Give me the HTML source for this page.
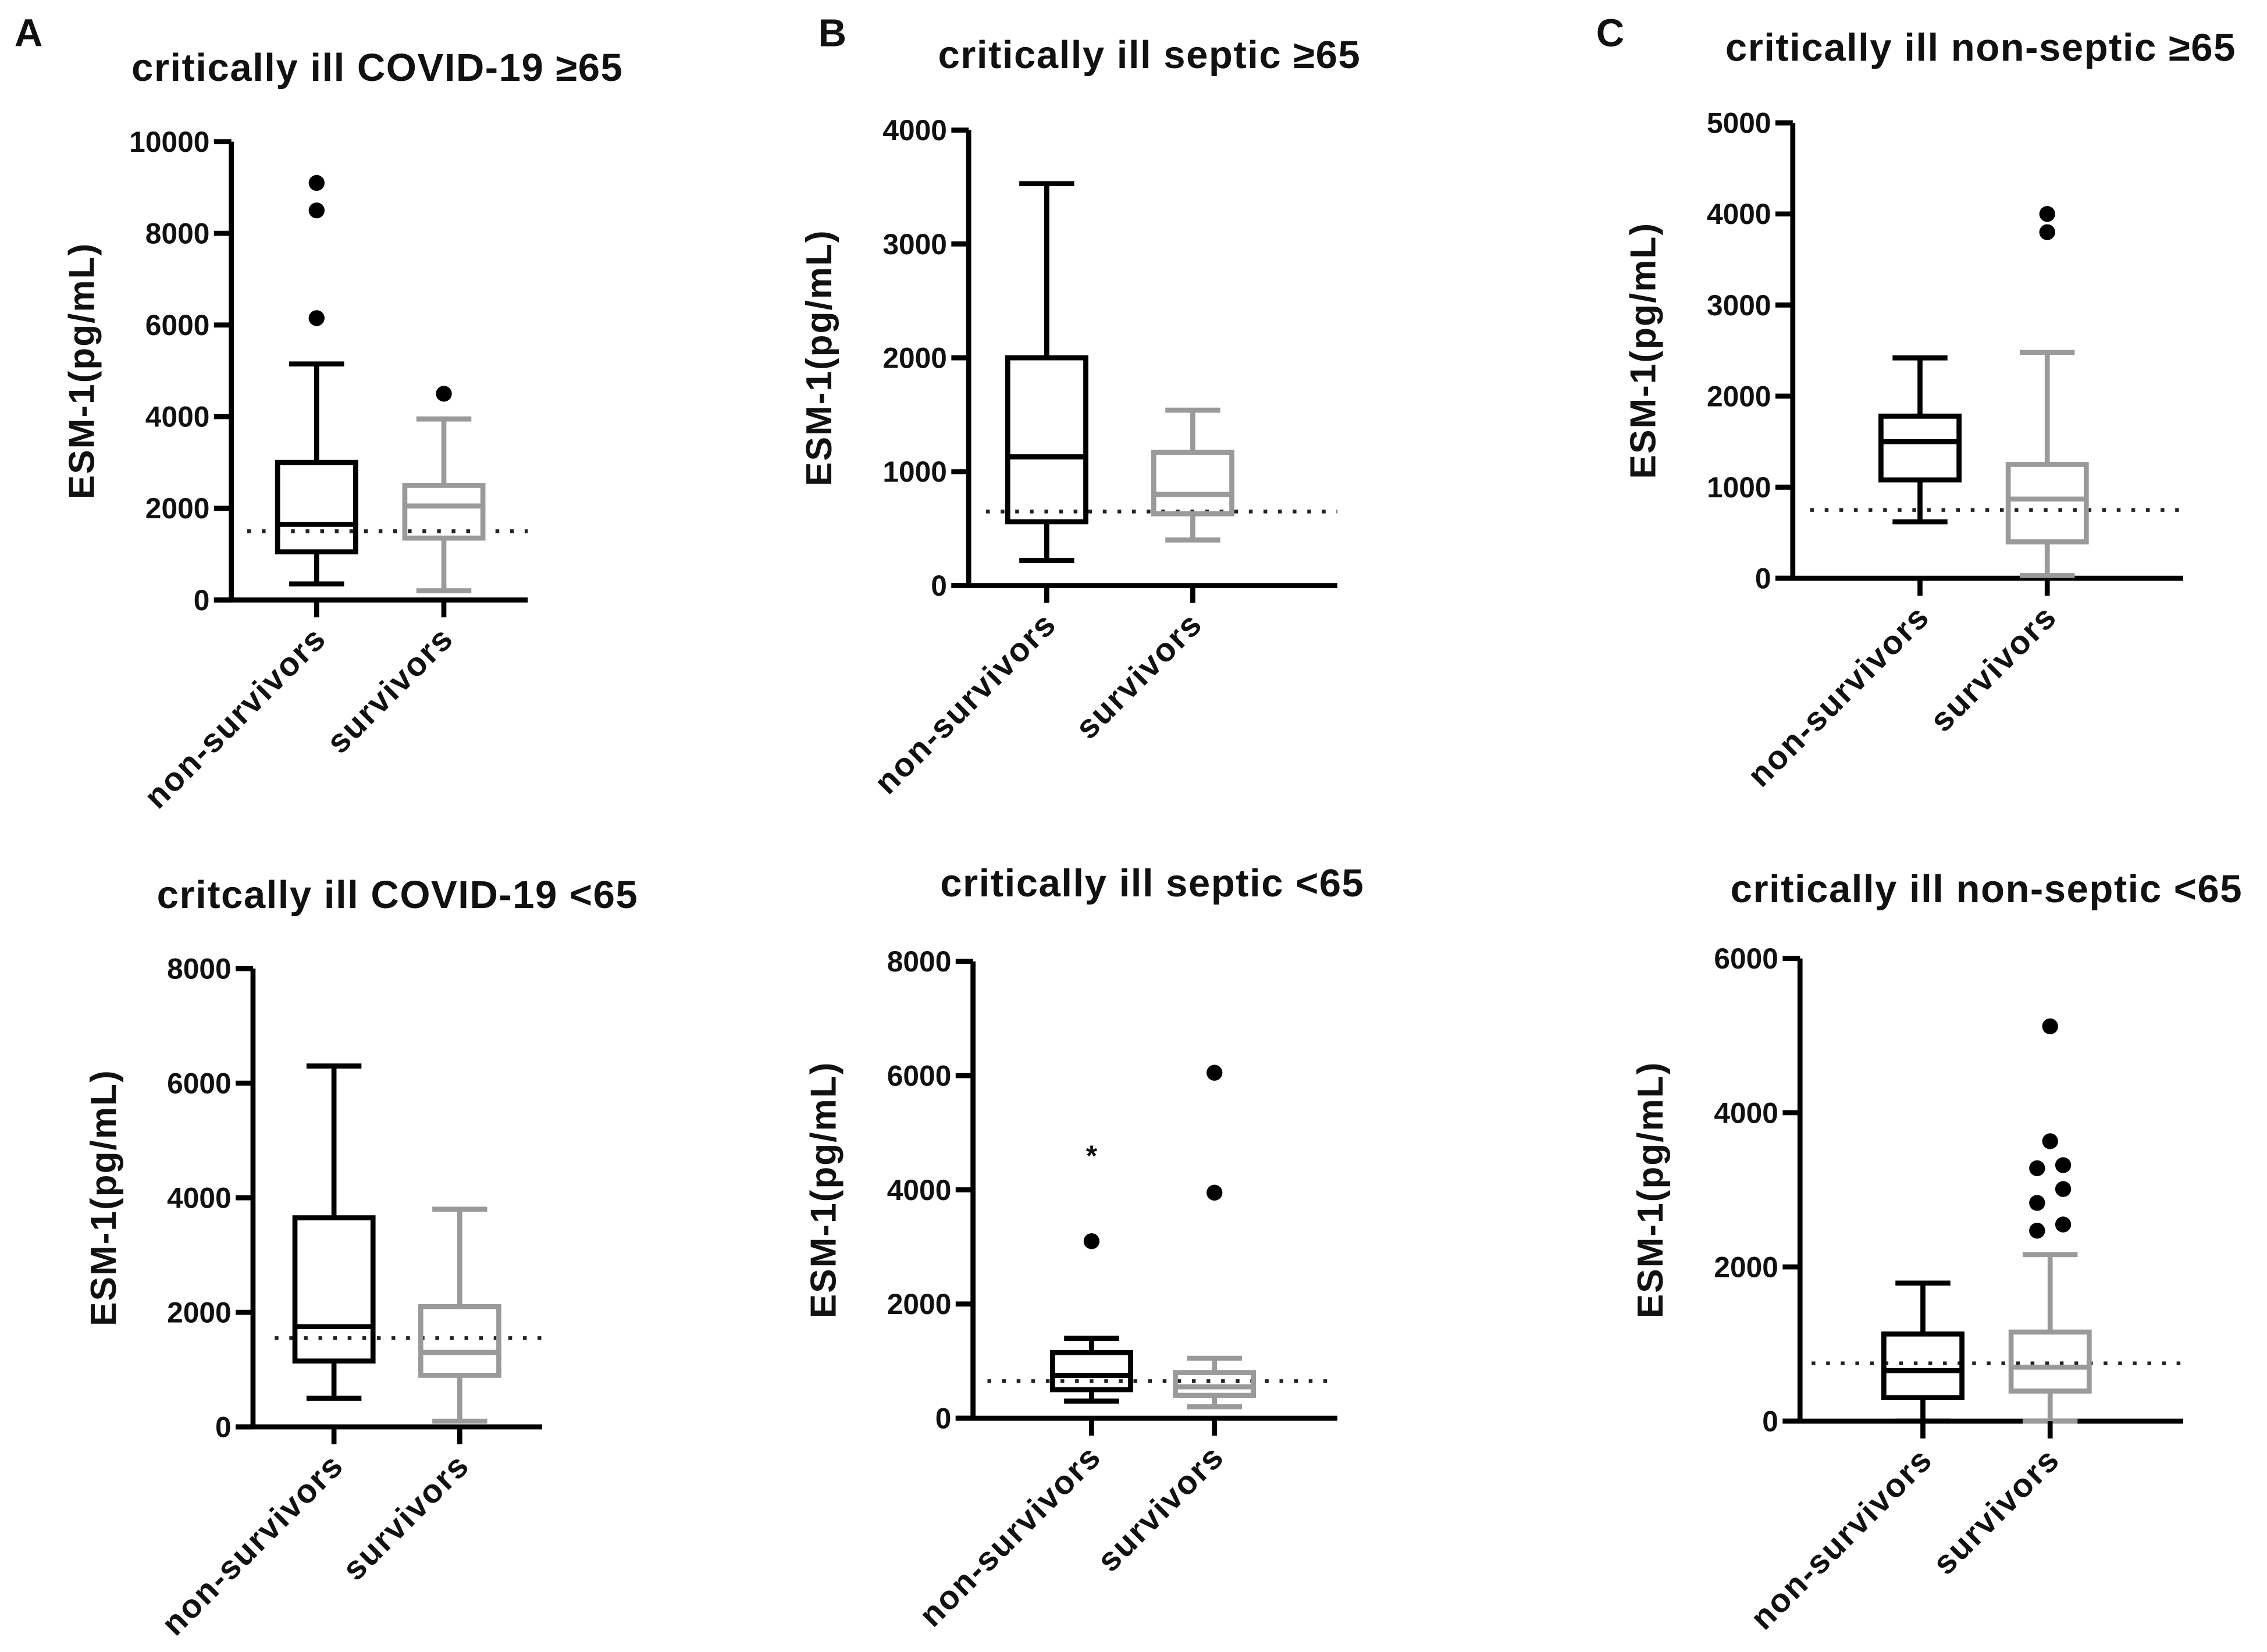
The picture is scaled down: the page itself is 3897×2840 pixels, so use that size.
<!DOCTYPE html>
<html><head><meta charset="utf-8"><style>
html,body{margin:0;padding:0;background:#fff}
svg{display:block}
text{font-family:"Liberation Sans",sans-serif;font-weight:bold;fill:#111}
</style></head><body>
<svg id="fig" width="3897" height="2840" viewBox="0 0 1568 1142.7" preserveAspectRatio="none" xmlns="http://www.w3.org/2000/svg"></svg>
<script>
// ---- data (values in pg/mL) ----
const categories = ["non-survivors", "survivors"];
const titles = ["critically ill COVID-19  \u226565", "critically ill septic \u226565", "critically ill non-septic \u226565",
                "critcally ill COVID-19 <65", "critically ill septic <65", "critically ill non-septic <65"];
const yMax = [10000, 4000, 5000, 8000, 8000, 6000];
const tickStep = [2000, 1000, 1000, 2000, 2000, 2000];
// [min, q1, median, q3, max] for non-survivors / survivors
const nonSurvStats = [
  [350, 1050, 1650, 3000, 5150],
  [220, 560, 1130, 2000, 3530],
  [620, 1080, 1500, 1780, 2420],
  [500, 1150, 1750, 3650, 6300],
  [300, 500, 750, 1150, 1400],
  [0, 305, 655, 1130, 1790]
];
const survStats = [
  [200, 1350, 2050, 2500, 3950],
  [400, 630, 800, 1170, 1540],
  [30, 400, 870, 1250, 2480],
  [100, 900, 1300, 2100, 3800],
  [200, 400, 550, 800, 1050],
  [0, 390, 700, 1155, 2160]
];
const nonSurvOutliers = [[9100, 8500, 6150], [], [], [], [3100], []];
const survOutliers = [[4500], [], [3800, 4000], [], [3950, 6050], [5120, 3630, 3280, 3320, 3010, 2830, 2550, 2470]];
const starMarks = [[], [], [], [], [4650], []];
const cutoff = [1500, 650, 750, 1550, 650, 750];

// ---- layout (positions only) ----
const layout = [
  {ax:160, y0:415, yt:98,  xe:365, c:[219,307], dx0:171, tx:261, ty:56},
  {ax:670, y0:405, yt:90,  xe:925, c:[724,825], dx0:682, tx:795, ty:47},
  {ax:1240,y0:400, yt:85,  xe:1510,c:[1328,1416],dx0:1252,tx:1370,ty:42},
  {ax:175, y0:987, yt:670, xe:375, c:[231,318], dx0:190, tx:275, ty:628},
  {ax:673, y0:981, yt:665, xe:925, c:[755,840], dx0:683, tx:797, ty:620},
  {ax:1245,y0:983, yt:663, xe:1510,c:[1330,1418],dx0:1253,tx:1374,ty:624}
];
const jitter6 = [0,0,-9,9,9,-9,9,-9];

const NS = "http://www.w3.org/2000/svg";
const svg = document.getElementById("fig");
function mk(tag, attrs, parent){
  const e = document.createElementNS(NS, tag);
  for (const k in attrs) e.setAttribute(k, attrs[k]);
  (parent||svg).appendChild(e);
  return e;
}
[["A",10,32],["B",566,32],["C",1104,32]].forEach(function(p){
  const t = mk("text",{x:p[1],y:p[2],"font-size":27});
  
  
  t.textContent = p[0];
});

layout.forEach(function(L, i){
  const g = mk("g",{});
  
  
  const y = v => L.y0 - (v / yMax[i]) * (L.y0 - L.yt);
  const sw = 3.5;
  const t = mk("text",{x:L.tx,y:L.ty,"font-size":27,"text-anchor":"middle","letter-spacing":"0.6"}, g);
  
  
  t.textContent = titles[i];
  const ya = mk("line",{x1:L.ax,y1:L.yt,x2:L.ax,y2:L.y0,stroke:"#000","stroke-width":sw}, g);
  
  
  const xa = mk("line",{x1:L.ax-12,y1:L.y0,x2:L.xe,y2:L.y0,stroke:"#000","stroke-width":sw}, g);
  
  
  for (let v = 0; v <= yMax[i]; v += tickStep[i]) {
    const tk = mk("line",{x1:L.ax-12,y1:y(v),x2:L.ax,y2:y(v),stroke:"#000","stroke-width":sw}, g);
    
    
    const tl = mk("text",{x:L.ax-15,y:y(v)+7,"font-size":20,"text-anchor":"end"}, g);
    
    
    tl.textContent = String(v);
  }
  const ym = (L.yt + L.y0) / 2;
  const yt = mk("text",{x:0,y:0,"font-size":25,"text-anchor":"middle","letter-spacing":"0.8",transform:"translate("+(L.ax-95)+","+ym+") rotate(-90)"}, g);
  
  
  yt.textContent = "ESM-1(pg/mL)";
  const dl = mk("line",{x1:L.dx0,y1:y(cutoff[i]),x2:L.xe,y2:y(cutoff[i]),stroke:"#222","stroke-width":2.6,"stroke-dasharray":"2.6 7.5"}, g);
  
  
  [nonSurvStats[i], survStats[i]].forEach(function(s, j){
    const cx = L.c[j], col = j === 0 ? "#000" : "#9a9a9a", hw = 27, cw = 19;
    const bg = mk("g",{stroke:col,"stroke-width":sw,fill:"none"}, g);
    
    
    mk("line",{x1:cx,y1:y(s[0]),x2:cx,y2:y(s[1])}, bg);
    mk("line",{x1:cx,y1:y(s[3]),x2:cx,y2:y(s[4])}, bg);
    mk("line",{x1:cx-cw,y1:y(s[0]),x2:cx+cw,y2:y(s[0])}, bg);
    mk("line",{x1:cx-cw,y1:y(s[4]),x2:cx+cw,y2:y(s[4])}, bg);
    mk("rect",{x:cx-hw,y:y(s[3]),width:hw*2,height:y(s[1])-y(s[3])}, bg);
    mk("line",{x1:cx-hw,y1:y(s[2]),x2:cx+hw,y2:y(s[2])}, bg);
    const xt = mk("line",{x1:cx,y1:L.y0,x2:cx,y2:L.y0+12,stroke:"#000","stroke-width":sw}, g);
    
    
    const xl = mk("text",{x:0,y:0,"font-size":23,"text-anchor":"end","letter-spacing":"1",transform:"translate("+(cx+8)+","+(L.y0+28)+") rotate(-45)"}, g);
    
    
    xl.textContent = categories[j];
  });
  [nonSurvOutliers[i], survOutliers[i]].forEach(function(arr, j){
    arr.forEach(function(v, k){
      const off = (i === 5 && j === 1) ? (jitter6[k] || 0) : 0;
      const c = mk("circle",{cx:L.c[j]+off,cy:y(v),r:5.5,fill:"#000"}, g);
      
      
    });
  });
  starMarks[i].forEach(function(v){
    const s = mk("text",{x:L.c[0],y:y(v)+9,"font-size":20,"text-anchor":"middle"}, g);
    
    
    s.textContent = "*";
  });
});
</script>
</body></html>
